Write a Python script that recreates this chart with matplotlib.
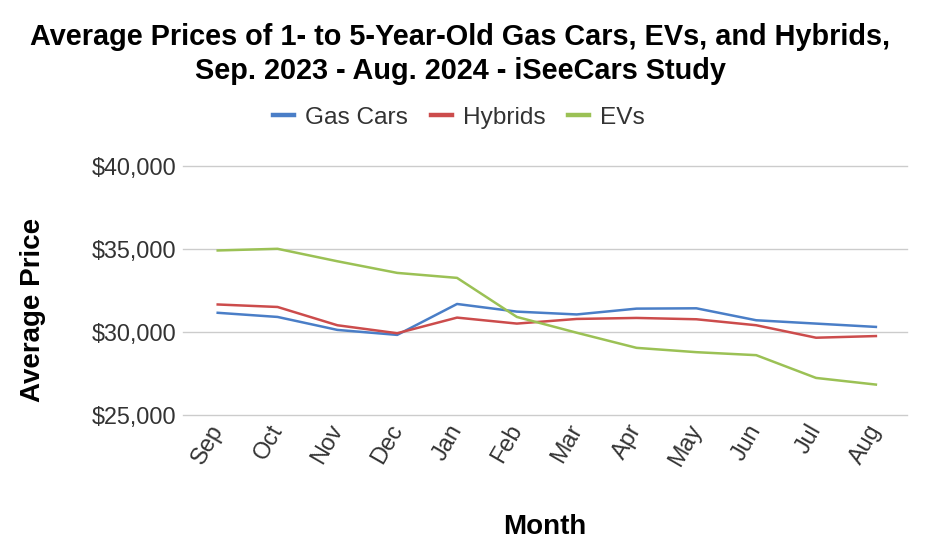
import matplotlib
matplotlib.use("Agg")
import matplotlib.pyplot as plt
from matplotlib.ticker import FuncFormatter
from matplotlib.transforms import ScaledTranslation

months = ["Sep", "Oct", "Nov", "Dec", "Jan", "Feb", "Mar", "Apr", "May", "Jun", "Jul", "Aug"]
gas_cars = [31150, 30900, 30120, 29820, 31680, 31220, 31050, 31400, 31420, 30700, 30500, 30300]
hybrids = [31650, 31500, 30400, 29920, 30860, 30500, 30780, 30840, 30760, 30400, 29650, 29750]
evs = [34900, 35000, 34250, 33550, 33250, 30900, 29950, 29040, 28780, 28600, 27230, 26830]

plt.rcParams['font.family'] = ['Liberation Sans', 'DejaVu Sans']

fig = plt.figure(figsize=(9.36, 5.54), dpi=100)
ax = fig.add_axes([183/936, 1-415/554, (907-183)/936, (415-165.7)/554])

x = list(range(len(months)))
ax.plot(x, gas_cars, color='#4A7EC7', lw=1.8, label='Gas Cars')
ax.plot(x, hybrids, color='#CC4C4C', lw=1.8, label='Hybrids')
ax.plot(x, evs, color='#9BC155', lw=1.8, label='EVs')

ax.set_ylim(25000, 40000)
ax.set_yticks([25000, 30000, 35000, 40000])
ax.yaxis.set_major_formatter(FuncFormatter(lambda v, p: f"${int(v):,}"))
ax.set_xlim(-0.58, 11.52)
ax.set_xticks(x)
ax.set_xticklabels(months, rotation=60, ha='right', va='center', rotation_mode='anchor')
offset = ScaledTranslation(4/100, -4/100, fig.dpi_scale_trans)
for lbl in ax.get_xticklabels():
    lbl.set_transform(lbl.get_transform() + offset)

ax.grid(axis='y', color='#cccccc', lw=1)
for gl in ax.get_ygridlines():
    gl.set_clip_on(False)
ax.set_axisbelow(True)
for s in ax.spines.values():
    s.set_visible(False)
ax.tick_params(axis='both', length=0, labelsize=16.8, colors='#333333')
ax.tick_params(axis='y', pad=5)
ax.tick_params(axis='x', pad=8)

fig.text(460/936, 1-54/554, "Average Prices of 1- to 5-Year-Old Gas Cars, EVs, and Hybrids,\nSep. 2023 - Aug. 2024 - iSeeCars Study",
         ha='center', va='center', fontsize=20.8, fontweight='bold', linespacing=1.25)
fig.text(545/936, 1-527/554, "Month", ha='center', va='center', fontsize=20, fontweight='bold')
fig.text(33/936, 1-310/554, "Average Price", ha='center', va='center', fontsize=20, fontweight='bold', rotation=90)

leg = fig.legend(loc='center', bbox_to_anchor=(459/936, 1-118/554), ncol=3, frameon=False,
                 fontsize=17.6, handlelength=0.85, handletextpad=0.45, columnspacing=0.95,
                 labelcolor='#333333')
for h in leg.legend_handles:
    h.set_linewidth(3.2)

fig.savefig("out.png", dpi=100)
